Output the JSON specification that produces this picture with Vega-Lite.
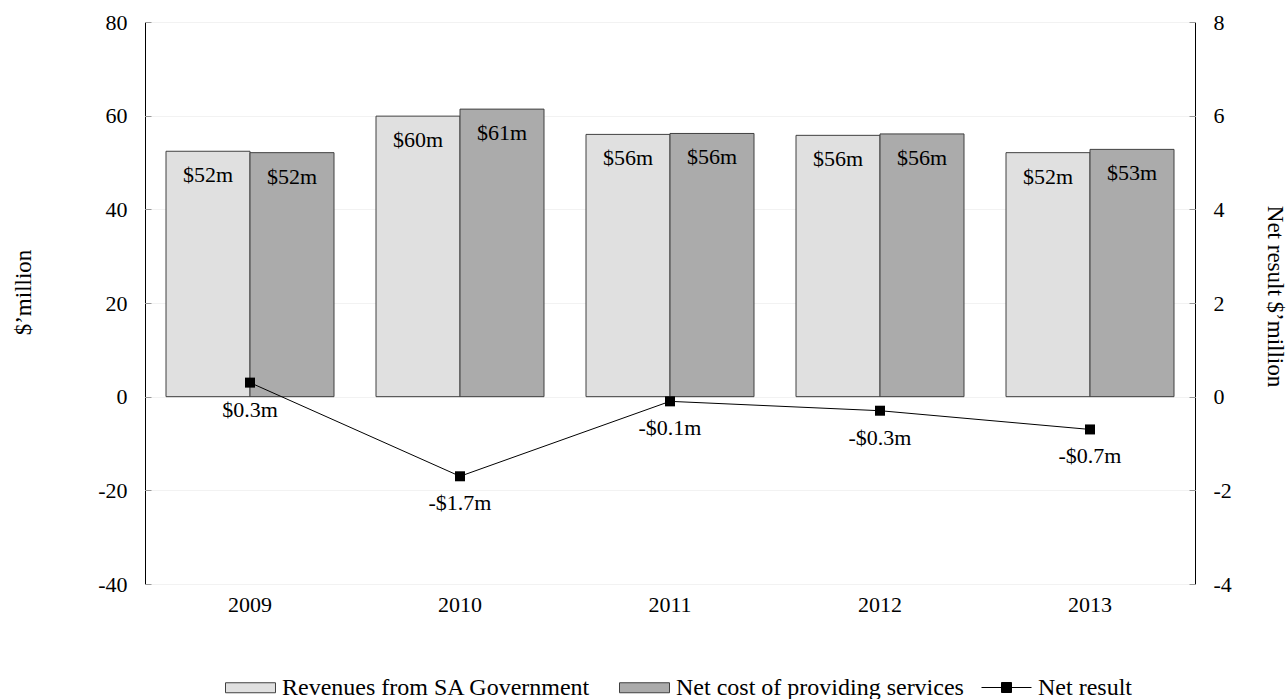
{
  "$schema": "https://vega.github.io/schema/vega-lite/v6.json",
  "width": 1050,
  "height": 562,
  "autosize": "none",
  "padding": {"left": 145, "top": 22, "right": 93, "bottom": 115},
  "background": "white",
  "config": {
    "font": "Liberation Serif",
    "view": {"stroke": "#000", "strokeWidth": 1},
    "axis": {
      "labelFont": "Liberation Serif",
      "labelFontSize": 22,
      "labelColor": "#000",
      "titleFont": "Liberation Serif",
      "titleFontSize": 23,
      "titleFontWeight": "normal",
      "titleColor": "#000",
      "domain": false,
      "ticks": false
    },
    "legend": {
      "labelFont": "Liberation Serif",
      "labelFontSize": 24,
      "labelColor": "#000",
      "labelLimit": 600,
      "padding": 0,
      "labelOffset": 6,
      "columnPadding": 26
    }
  },
  "datasets": {
    "funding": [
      {"year": "2009", "series": "Revenues from SA Government", "value": 52.4, "label": "$52m"},
      {"year": "2009", "series": "Net cost of providing services", "value": 52.1, "label": "$52m"},
      {"year": "2010", "series": "Revenues from SA Government", "value": 59.9, "label": "$60m"},
      {"year": "2010", "series": "Net cost of providing services", "value": 61.4, "label": "$61m"},
      {"year": "2011", "series": "Revenues from SA Government", "value": 56.0, "label": "$56m"},
      {"year": "2011", "series": "Net cost of providing services", "value": 56.2, "label": "$56m"},
      {"year": "2012", "series": "Revenues from SA Government", "value": 55.8, "label": "$56m"},
      {"year": "2012", "series": "Net cost of providing services", "value": 56.1, "label": "$56m"},
      {"year": "2013", "series": "Revenues from SA Government", "value": 52.1, "label": "$52m"},
      {"year": "2013", "series": "Net cost of providing services", "value": 52.8, "label": "$53m"}
    ],
    "net": [
      {"year": "2009", "series": "Net result", "value": 0.3, "label": "$0.3m"},
      {"year": "2010", "series": "Net result", "value": -1.7, "label": "-$1.7m"},
      {"year": "2011", "series": "Net result", "value": -0.1, "label": "-$0.1m"},
      {"year": "2012", "series": "Net result", "value": -0.3, "label": "-$0.3m"},
      {"year": "2013", "series": "Net result", "value": -0.7, "label": "-$0.7m"}
    ]
  },
  "encoding": {
    "x": {
      "field": "year",
      "type": "nominal",
      "scale": {"paddingInner": 0.2, "paddingOuter": 0.1},
      "axis": {"title": null, "labelAngle": 0, "labelPadding": 10, "labelFont": "Liberation Serif", "labelFontSize": 22}
    }
  },
  "layer": [
    {
      "data": {"name": "funding"},
      "encoding": {
        "xOffset": {
          "field": "series",
          "sort": ["Revenues from SA Government", "Net cost of providing services"],
          "scale": {"paddingInner": 0, "paddingOuter": 0}
        },
        "y": {
          "field": "value",
          "type": "quantitative",
          "scale": {"domain": [-40, 80], "nice": false, "zero": false},
          "axis": {
            "orient": "left",
            "values": [-40, -20, 0, 20, 40, 60, 80],
            "labelExpr": "replace(datum.label, '\u2212', '-')",
            "labelFont": "Liberation Serif",
            "labelFontSize": 22,
            "grid": true,
            "gridColor": "#f2f2f2",
            "ticks": true,
            "tickSize": -6,
            "tickColor": "#9a9a9a",
            "labelPadding": 24,
            "title": "$’million",
            "titleX": -122,
            "titleY": 270,
            "titleAlign": "center",
            "titleBaseline": "middle"
          }
        }
      },
      "layer": [
        {
          "mark": {"type": "bar", "stroke": "#404040", "strokeWidth": 1},
          "encoding": {
            "fill": {
              "field": "series",
              "type": "nominal",
              "scale": {
                "domain": ["Revenues from SA Government", "Net cost of providing services"],
                "range": ["#e0e0e0", "#ababab"]
              },
              "legend": {
                "title": null,
                "orient": "none",
                "direction": "horizontal",
                "legendX": 80,
                "legendY": 640,
                "symbolType": "M-1,-0.2H1V0.2H-1Z",
                "symbolSize": 2500,
                "symbolStrokeColor": "#404040",
                "symbolStrokeWidth": 1
              }
            }
          }
        },
        {
          "mark": {"type": "text", "baseline": "top", "dy": 14, "fontSize": 22, "color": "#000", "font": "Liberation Serif"},
          "encoding": {"text": {"field": "label"}}
        },
        {
          "mark": {"type": "rule", "color": "#000", "strokeWidth": 1},
          "encoding": {"y": {"datum": 0}, "xOffset": null}
        }
      ]
    },
    {
      "data": {"name": "net"},
      "encoding": {
        "y": {
          "field": "value",
          "type": "quantitative",
          "scale": {"domain": [-4, 8], "nice": false, "zero": false},
          "axis": {
            "orient": "right",
            "values": [-4, -2, 0, 2, 4, 6, 8],
            "labelExpr": "replace(datum.label, '\u2212', '-')",
            "labelFont": "Liberation Serif",
            "labelFontSize": 22,
            "grid": false,
            "ticks": true,
            "tickSize": -6,
            "tickColor": "#9a9a9a",
            "labelPadding": 24,
            "title": "Net result $’million",
            "titleX": 79,
            "titleY": 274,
            "titleAngle": 90,
            "titleAlign": "center",
            "titleBaseline": "middle"
          }
        }
      },
      "layer": [
        {
          "mark": {"type": "line", "strokeWidth": 1},
          "encoding": {
            "stroke": {
              "field": "series",
              "type": "nominal",
              "scale": {"domain": ["Net result"], "range": ["#000"]},
              "legend": {
                "title": null,
                "orient": "none",
                "direction": "horizontal",
                "legendX": 836,
                "legendY": 640,
                "symbolType": "M-1,0H1M-0.2,-0.2H0.2V0.2H-0.2Z",
                "symbolSize": 2500,
                "symbolStrokeWidth": 1,
                "encode": {
                  "symbols": {
                    "update": {
                      "fill": {"value": "#000"},
                      "stroke": {"value": "#000"},
                      "strokeWidth": {"value": 1}
                    }
                  }
                }
              }
            }
          }
        },
        {
          "mark": {"type": "point", "shape": "square", "filled": true, "size": 100, "color": "#000", "opacity": 1},
          "encoding": {}
        },
        {
          "mark": {"type": "text", "baseline": "top", "dy": 17, "fontSize": 22, "color": "#000", "font": "Liberation Serif"},
          "encoding": {"text": {"field": "label"}}
        }
      ]
    }
  ],
  "resolve": {"scale": {"y": "independent"}}
}
